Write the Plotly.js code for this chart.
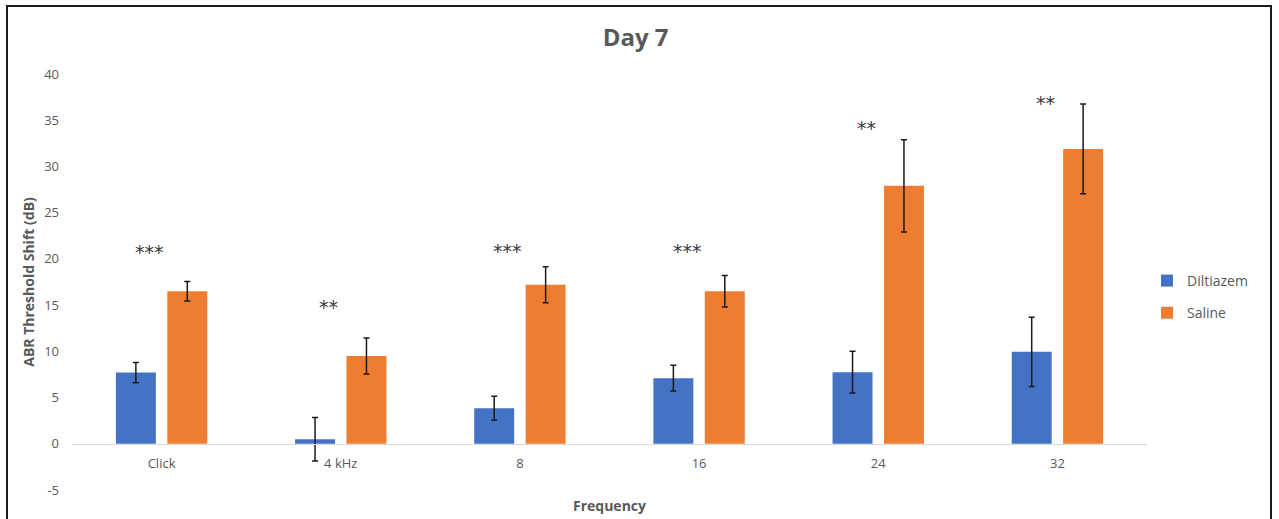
<!DOCTYPE html>
<html>
<head>
<meta charset="utf-8">
<script src="https://cdn.plot.ly/plotly-3.0.1.min.js"></script>
<style>
  html, body { margin: 0; padding: 0; background: #fff; }
  #chart { width: 1279px; height: 519px; }
  #frame { position: absolute; left: 6px; top: 5px; width: 1262px; height: 600px;
           border: 2px solid #1a1a1a; pointer-events: none; }
</style>
</head>
<body>
<div id="chart"></div>
<div id="frame"></div>
<script>
const categories = ['Click', '4 kHz', '8', '16', '24', '32'];
const diltiazem = [7.7, 0.5, 3.85, 7.1, 7.75, 9.95];
const diltiazemErr = [1.1, 2.35, 1.3, 1.4, 2.25, 3.75];
const saline = [16.5, 9.5, 17.2, 16.5, 27.9, 31.9];
const salineErr = [1.05, 1.95, 1.95, 1.7, 5.0, 4.85];
const sigLabels = ['***', '**', '***', '***', '**', '**'];
const sigY = [21.0, 15.0, 21.1, 21.1, 34.4, 37.1];
const yTickVals = [-5, 0, 5, 10, 15, 20, 25, 30, 35, 40];
const yTickText = ['-5', '0', '5', '10', '15', '20', '25', '30', '35', '40'];
const yRange = [-5, 40];

const grey = '#595959';
const font = 'Open Sans, Noto Sans, sans-serif';

const errStyle = {type: 'data', visible: true, color: '#1a1a1a', thickness: 1.5, width: 3};

const traces = [
  {type: 'bar', name: 'Diltiazem', x: categories, y: diltiazem, legendgroup: 'a',
   marker: {color: '#4472C4'},
   error_y: Object.assign({array: diltiazemErr}, errStyle)},
  {type: 'bar', name: 'Saline', x: categories, y: saline, legendgroup: 'b',
   marker: {color: '#ED7D31'},
   error_y: Object.assign({array: salineErr}, errStyle)}
];

// on a category axis, a numeric annotation x is the category index
const annotations = categories.map((c, i) => ({
  x: i, y: sigY[i], xref: 'x', yref: 'y', text: sigLabels[i], showarrow: false,
  xshift: -12, yshift: -2, font: {family: 'DejaVu Sans, sans-serif', size: 19, color: '#3a3a3a'}
}));

const layout = {
  width: 1279, height: 519,
  margin: {l: 72, r: 132, t: 74, b: 29},
  paper_bgcolor: '#ffffff', plot_bgcolor: '#ffffff',
  font: {family: font, color: grey},
  title: {text: '<b>Day 7</b>', x: 0.497, xref: 'container', xanchor: 'center',
          y: 1 - 38 / 519, yref: 'container', yanchor: 'middle',
          font: {family: font, size: 24, color: grey}},
  barmode: 'group', bargap: 0.426, bargroupgap: 0.223,
  showlegend: true,
  legend: {x: 1.0, xanchor: 'left', y: 0.464, yanchor: 'middle',
           traceorder: 'grouped', tracegroupgap: 11,
           font: {family: font, size: 14, color: grey}},
  xaxis: {type: 'category', anchor: 'free',
          range: [-0.5, categories.length - 0.5],
          position: (0 - yRange[0]) / (yRange[1] - yRange[0]),
          showline: true, linecolor: '#D9D9D9', linewidth: 1,
          showgrid: false, zeroline: false, ticks: '', ticklabelstandoff: 8,
          tickfont: {family: font, size: 13, color: grey},
          title: {text: '<b>Frequency</b>', standoff: 29,
                  font: {family: font, size: 14, color: grey}}},
  yaxis: {range: yRange, tickvals: yTickVals, ticktext: yTickText, domain: [0, 1],
          showgrid: false, zeroline: false,
          showline: false, ticks: '', ticklabelstandoff: 12,
          tickfont: {family: font, size: 13, color: grey},
          title: {text: '<b>ABR Threshold Shift (dB)</b>', standoff: 6,
                  font: {family: font, size: 14, color: grey}}},
  annotations: annotations
};

Plotly.newPlot('chart', traces, layout, {displayModeBar: false, staticPlot: true});
</script>
</body>
</html>
